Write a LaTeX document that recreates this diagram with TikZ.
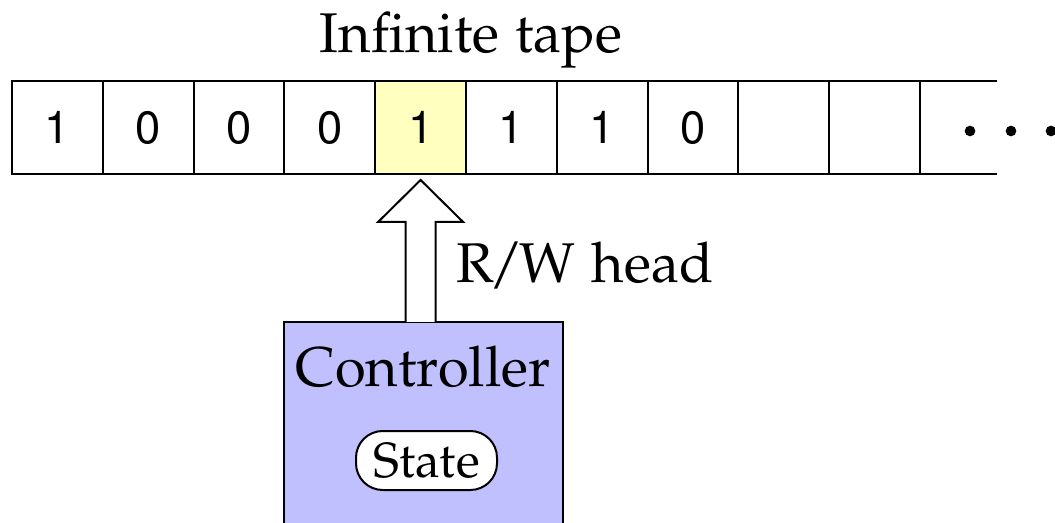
\documentclass[tikz,border=0pt]{standalone}
\usepackage[T1]{fontenc}
\usepackage{mathpazo}
\usetikzlibrary{calc}
\definecolor{headcell}{RGB}{255,255,192}
\definecolor{ctrlfill}{RGB}{192,192,255}
\begin{document}
\begin{tikzpicture}[x=0.75pt,y=-0.75pt,
  cell/.style={draw=black,line width=1.5pt,inner sep=0pt,outer sep=0pt,
    minimum width=68.1pt,minimum height=69.75pt,
    font=\fontfamily{phv}\fontsize{34}{40}\selectfont},
  label/.style={inner sep=0pt,anchor=base,
    font=\fontfamily{pplx}\fontsize{42}{50}\selectfont},
  ctrlbox/.style={draw=black,line width=1.5pt,fill=ctrlfill,inner sep=0pt,outer sep=0pt},
  statebox/.style={draw=black,line width=1.5pt,fill=white,rounded corners=20pt,
    inner sep=0pt,minimum width=105.75pt,minimum height=44.25pt,
    font=\fontfamily{pplx}\fontsize{37}{42}\selectfont},
  tapeline/.style={line width=1.5pt},
  dot/.style={fill=black}]
\useasboundingbox (0,0) rectangle (1055,523);
\clip (0,0) rectangle (1055,523);

% tape cells
\foreach \i/\t in {1/1,2/0,3/0,4/0,5/1,6/1,7/1,8/0,9/,10/}{
  \node[cell] (c\i) at ({12+90.8*(\i-0.5)},127.5) {\t};
}
\node[cell,fill=headcell] (c5) at ({12+90.8*4.5},127.5) {1};

% open end of the tape
\coordinate (tapeendtop) at (997,81);
\coordinate (tapeendbot) at (997,174);
\draw[tapeline] (c10.north east) -- (tapeendtop |- c10.north east);
\draw[tapeline] (c10.south east) -- (tapeendbot |- c10.south east);
\fill[dot] (970,131) circle (4pt);
\fill[dot] (1011,131) circle (4pt);
\fill[dot] (1051,131) circle (4pt);

% title
\node[label] (title) at (471,53) {Infinite tape};

% controller
\node[ctrlbox,minimum width=209.25pt,minimum height=180pt] (ctrl) at (423.5,442) {};
\node[label] (ctrltext) at (423,387) {Controller};
\node[statebox] (state) at (426.5,460.5) {State};

% read/write head arrow
\coordinate (tip) at ($(c5.south)+(0,6)$);
\coordinate (sl) at ($(tip)+(-15,0)$);
\coordinate (sr) at ($(tip)+(15,0)$);
\draw[line width=1.5pt,fill=white,line join=miter]
  (sl |- ctrl.north) -- ($(tip)+(-15,42)$) -- ($(tip)+(-42.5,42)$) -- (tip)
  -- ($(tip)+(42.5,42)$) -- ($(tip)+(15,42)$) -- (sr |- ctrl.north);
\node[label,anchor=base west] (rw) at (456,283) {R\kern-3pt/\kern-3pt W head};
\end{tikzpicture}
\end{document}
